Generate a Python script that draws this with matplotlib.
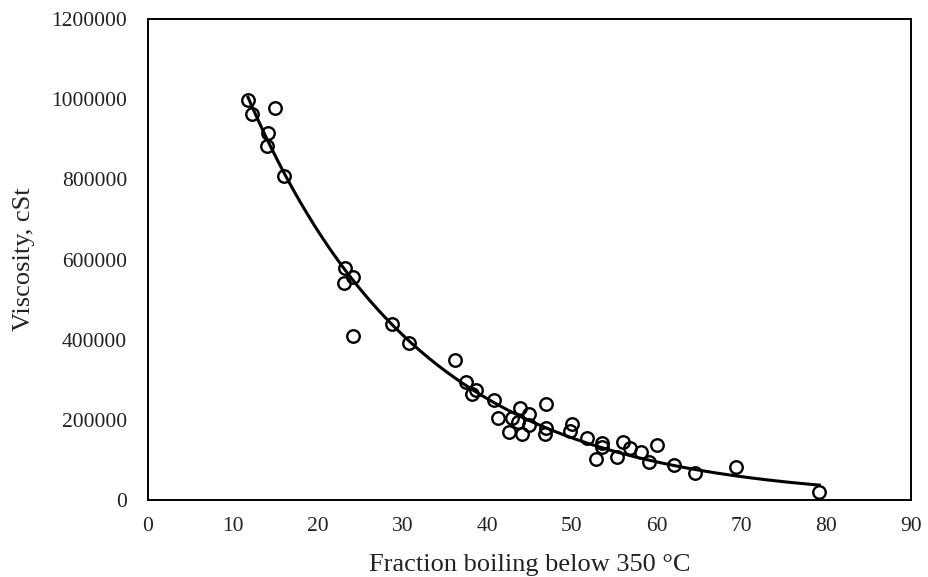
import numpy as np
import matplotlib
matplotlib.use("Agg")
import matplotlib.pyplot as plt

# Fraction of the sample boiling below 350 °C (wt %) and kinematic viscosity (cSt)
fraction = [11.8, 12.3, 15.0, 14.2, 14.0, 16.0,
            23.2, 24.2, 23.1, 24.2, 28.8, 30.8,
            36.2, 37.5, 38.2, 38.7, 40.8, 41.3,
            42.6, 42.9, 43.9, 44.1, 43.7, 45.0,
            44.9, 47.0, 46.9, 46.8, 50.0, 49.8,
            51.8, 53.5, 53.5, 52.9, 55.3, 56.0,
            56.8, 58.2, 59.1, 60.0, 62.1, 64.5,
            69.4, 79.2]
viscosity = [997500, 962500, 977500, 915000, 882500, 807500,
             580000, 557500, 542500, 410000, 440000, 392500,
             350000, 295000, 265000, 275000, 250000, 205000,
             170000, 205000, 230000, 165000, 195000, 215000,
             187500, 240000, 180000, 165000, 190000, 172500,
             155000, 142500, 132500, 102500, 107500, 145000,
             130000, 120000, 95000, 137500, 87500, 67500,
             82500, 20000]

x_ticks = [0, 10, 20, 30, 40, 50, 60, 70, 80, 90]
y_ticks = [0, 200000, 400000, 600000, 800000, 1000000, 1200000]

plt.rcParams['font.family'] = ['Liberation Serif', 'DejaVu Serif']

fig = plt.figure(figsize=(9.29, 5.77), dpi=100)
ax = fig.add_axes([0.1593, 0.1334, 0.8213, 0.8336])

x = np.asarray(fraction, dtype=float)
y = np.asarray(viscosity, dtype=float)

# Exponential trendline, least squares on ln(viscosity)
b, ln_a = np.polyfit(x, np.log(y), 1)
xf = np.linspace(x.min(), x.max(), 200)
ax.plot(xf, np.exp(ln_a) * np.exp(b * xf), color='black', lw=2.2, zorder=2)

ax.plot(x, y, linestyle='none', marker='o', ms=9, mfc='none',
        mec='black', mew=1.7, zorder=3)

ax.set_xlim(0, 90)
ax.set_ylim(0, 1200000)
ax.set_xticks(x_ticks)
ax.set_yticks(y_ticks)
ax.set_xticklabels([str(t) for t in x_ticks])
ax.set_yticklabels([str(t) for t in y_ticks])
ax.tick_params(length=0, labelsize=15.5, labelcolor='#222222')
ax.tick_params(axis='x', pad=12)
ax.tick_params(axis='y', pad=15)

for s in ax.spines.values():
    s.set_linewidth(1.4)
    s.set_color('black')

ax.set_xlabel('Fraction boiling below 350 °C', fontsize=19, labelpad=13,
              color='#222222')
ax.set_ylabel('Viscosity, cSt', fontsize=19, labelpad=12, color='#222222')

fig.savefig('out.png', dpi=100)
